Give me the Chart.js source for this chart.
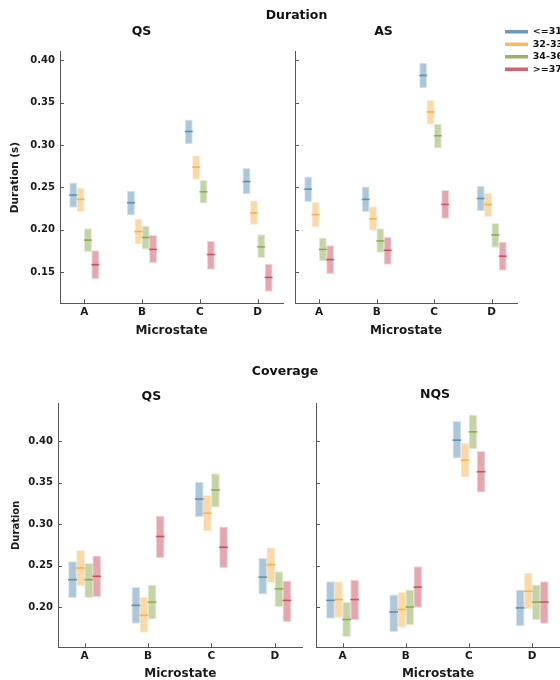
<!DOCTYPE html>
<html>
<head>
<meta charset="utf-8">
<title>Duration and Coverage by Microstate</title>
<script src="https://cdn.jsdelivr.net/npm/chart.js@4.4.1/dist/chart.umd.min.js"></script>
<style>
    body { margin: 0; background: #fff; width: 560px; height: 680px; position: relative; overflow: hidden; }
    canvas { position: absolute; }
</style>
</head>
<body>
<canvas id="durQs" width="290" height="345" style="left:0;top:0"></canvas>
<canvas id="durAs" width="310" height="345" style="left:250px;top:0"></canvas>
<canvas id="covQs" width="310" height="335" style="left:0;top:345px"></canvas>
<canvas id="covNqs" width="250" height="335" style="left:310px;top:345px"></canvas>
<canvas id="durHead" width="527" height="30" style="left:33px;top:0"></canvas>
<canvas id="covHead" width="550" height="30" style="left:10px;top:355px"></canvas>
<canvas id="legendBox" width="58" height="60" style="left:502px;top:24px"></canvas>
<script>
// Categories and groups
const categories = ['A', 'B', 'C', 'D'];
const groups = ['<=31', '32-33', '34-36', '>=37'];
const groupColors = [[70, 130, 170], [245, 170, 60], [125, 160, 60], [195, 60, 75]];

// Duration, QS (rows = age group, columns = microstate)
const durQsMean = [[0.241, 0.232, 0.316, 0.257], [0.236, 0.198, 0.274, 0.220], [0.188, 0.191, 0.245, 0.180], [0.159, 0.177, 0.171, 0.144]];
const durQsLow  = [[0.226, 0.217, 0.301, 0.242], [0.221, 0.183, 0.259, 0.206], [0.174, 0.177, 0.231, 0.167], [0.142, 0.161, 0.153, 0.127]];
const durQsHigh = [[0.256, 0.246, 0.330, 0.273], [0.250, 0.213, 0.288, 0.235], [0.202, 0.205, 0.259, 0.195], [0.176, 0.194, 0.187, 0.160]];

// Duration, AS
const durAsMean = [[0.248, 0.236, 0.382, 0.237], [0.218, 0.213, 0.339, 0.230], [0.177, 0.187, 0.311, 0.194], [0.165, 0.176, 0.230, 0.169]];
const durAsLow  = [[0.233, 0.221, 0.367, 0.222], [0.203, 0.199, 0.324, 0.215], [0.163, 0.173, 0.296, 0.179], [0.148, 0.159, 0.213, 0.152]];
const durAsHigh = [[0.263, 0.251, 0.397, 0.252], [0.233, 0.228, 0.353, 0.244], [0.191, 0.202, 0.325, 0.208], [0.182, 0.192, 0.247, 0.186]];

// Coverage, QS
const covQsMean = [[0.233, 0.202, 0.330, 0.236], [0.247, 0.190, 0.313, 0.251], [0.233, 0.206, 0.341, 0.222], [0.237, 0.285, 0.272, 0.208]];
const covQsLow  = [[0.211, 0.180, 0.308, 0.215], [0.225, 0.169, 0.291, 0.229], [0.211, 0.185, 0.320, 0.200], [0.212, 0.259, 0.247, 0.182]];
const covQsHigh = [[0.255, 0.224, 0.351, 0.259], [0.269, 0.212, 0.335, 0.272], [0.253, 0.227, 0.361, 0.243], [0.262, 0.310, 0.297, 0.232]];

// Coverage, NQS
const covNqsMean = [[0.208, 0.194, 0.401, 0.199], [0.209, 0.197, 0.377, 0.219], [0.185, 0.200, 0.411, 0.206], [0.209, 0.224, 0.363, 0.206]];
const covNqsLow  = [[0.186, 0.170, 0.379, 0.177], [0.187, 0.175, 0.356, 0.197], [0.164, 0.178, 0.390, 0.184], [0.184, 0.199, 0.338, 0.180]];
const covNqsHigh = [[0.231, 0.215, 0.424, 0.221], [0.231, 0.218, 0.398, 0.241], [0.206, 0.221, 0.432, 0.227], [0.233, 0.249, 0.388, 0.231]];

Chart.defaults.font.family = "'DejaVu Sans', sans-serif";
Chart.defaults.color = '#1a1a1a';
Chart.defaults.animation = false;

const axisColor = '#555';

function rgba(c, a) {
    return `rgba(${c[0]}, ${c[1]}, ${c[2]}, ${a})`;
}

// Draw the mean line across each floating bar
const meanLines = {
    id: 'meanLines',
    afterDatasetsDraw(chart) {
        const ctx = chart.ctx;
        const yScale = chart.scales.y;
        ctx.save();
        chart.data.datasets.forEach((ds, di) => {
            const meta = chart.getDatasetMeta(di);
            ctx.strokeStyle = ds.lineColor;
            ctx.lineWidth = 1.6;
            meta.data.forEach((bar, i) => {
                const py = yScale.getPixelForValue(ds.means[i]);
                ctx.beginPath();
                ctx.moveTo(bar.x - bar.width / 2, py);
                ctx.lineTo(bar.x + bar.width / 2, py);
                ctx.stroke();
            });
        });
        ctx.restore();
    }
};

// Tick marks pointing into the plot area
const innerTicks = {
    id: 'innerTicks',
    afterDraw(chart) {
        const {ctx, scales: {x, y}} = chart;
        ctx.save();
        ctx.strokeStyle = axisColor;
        ctx.lineWidth = 1;
        ctx.beginPath();
        x.ticks.forEach(t => {
            const px = Math.round(x.getPixelForValue(t.value)) + 0.5;
            ctx.moveTo(px, x.top);
            ctx.lineTo(px, x.top - 4);
        });
        y.ticks.forEach(t => {
            const py = Math.round(y.getPixelForValue(t.value)) + 0.5;
            ctx.moveTo(y.right, py);
            ctx.lineTo(y.right + 4, py);
        });
        ctx.stroke();
        ctx.restore();
    }
};

function makePanel(id, p) {
    const datasets = groups.map((g, gi) => ({
        label: g,
        data: categories.map((c, ci) => ({ x: ci, y: [p.low[gi][ci], p.high[gi][ci]] })),
        means: p.mean[gi],
        backgroundColor: rgba(groupColors[gi], 0.45),
        borderColor: rgba(groupColors[gi], 0.2),
        borderWidth: 1,
        borderSkipped: false,
        lineColor: rgba(groupColors[gi], 0.8),
        categoryPercentage: 0.51,
        barPercentage: 1.08
    }));

    new Chart(document.getElementById(id), {
        type: 'bar',
        data: { datasets },
        options: {
            responsive: false,
            layout: { padding: { left: 0, right: p.padRight, top: 0, bottom: 0 } },
            plugins: {
                legend: { display: false },
                tooltip: { enabled: false },
                title: {
                    display: true,
                    text: p.title,
                    color: '#111',
                    font: { size: 12.5, weight: 'bold', lineHeight: p.titleLH },
                    padding: { top: p.titleTop, bottom: p.titleBottom }
                }
            },
            scales: {
                x: {
                    type: 'linear',
                    offset: false,
                    min: -0.42,
                    max: 3.44,
                    grid: { display: false, drawTicks: false },
                    border: { color: axisColor, width: 1 },
                    ticks: {
                        stepSize: 1,
                        includeBounds: false,
                        autoSkip: false,
                        maxRotation: 0,
                        padding: 3,
                        font: { size: 10.5, weight: 'bold' },
                        callback: v => categories[v] ?? ''
                    },
                    title: {
                        display: true,
                        text: 'Microstate',
                        font: { size: 12, weight: 'bold', lineHeight: p.xTitleLH },
                        padding: { top: 0, bottom: p.xTitlePad }
                    },
                    afterFit: s => { s.height = p.xHeight; }
                },
                y: {
                    min: p.yMin,
                    max: p.yMax,
                    grid: { display: false, drawTicks: false },
                    border: { color: axisColor, width: 1 },
                    ticks: {
                        stepSize: 0.05,
                        includeBounds: false,
                        display: p.showYTicks,
                        padding: 5,
                        font: { size: 10, weight: 'bold' },
                        callback: v => v.toFixed(2)
                    },
                    title: {
                        display: !!p.yTitle,
                        text: p.yTitle || '',
                        font: { size: p.yTitleSize, weight: 'bold' },
                        padding: { top: p.yTitlePad, bottom: 0 }
                    },
                    afterFit: s => { s.width = p.yWidth; }
                }
            }
        },
        plugins: [meanLines, innerTicks]
    });
}

function makeHeader(id, text, padTop) {
    new Chart(document.getElementById(id), {
        type: 'bar',
        data: { datasets: [] },
        options: {
            responsive: false,
            plugins: {
                legend: { display: false },
                tooltip: { enabled: false },
                title: {
                    display: true,
                    text: text,
                    color: '#111',
                    font: { size: 12.5, weight: 'bold' },
                    padding: { top: padTop, bottom: 0 }
                }
            },
            scales: { x: { display: false }, y: { display: false } }
        }
    });
}

function makeLegend(id) {
    new Chart(document.getElementById(id), {
        type: 'bar',
        data: {
            datasets: groups.map((g, gi) => ({
                label: g,
                data: [],
                backgroundColor: rgba(groupColors[gi], 0.8),
                borderWidth: 0
            }))
        },
        options: {
            responsive: false,
            plugins: {
                tooltip: { enabled: false },
                legend: {
                    display: true,
                    position: 'top',
                    align: 'start',
                    maxHeight: 60,
                    labels: {
                        boxWidth: 23,
                        boxHeight: 3.5,
                        padding: 3,
                        color: '#111',
                        font: { size: 9.5, weight: 'bold' }
                    }
                }
            },
            scales: { x: { display: false }, y: { display: false } }
        }
    });
}

makePanel('durQs', {
    title: 'QS', mean: durQsMean, low: durQsLow, high: durQsHigh,
    yMin: 0.1135, yMax: 0.41, yWidth: 60, padRight: 7,
    titleTop: 24, titleBottom: 12.7, titleLH: 1.2,
    xHeight: 41.7, xTitlePad: 6.8, xTitleLH: 1.2,
    showYTicks: true, yTitle: 'Duration (s)', yTitleSize: 10.5, yTitlePad: 9
});

makePanel('durAs', {
    title: 'AS', mean: durAsMean, low: durAsLow, high: durAsHigh,
    yMin: 0.1135, yMax: 0.41, yWidth: 45, padRight: 43,
    titleTop: 24, titleBottom: 12.7, titleLH: 1.2,
    xHeight: 41.7, xTitlePad: 6.8, xTitleLH: 1.2,
    showYTicks: false, yTitle: ''
});

makePanel('covQs', {
    title: 'QS', mean: covQsMean, low: covQsLow, high: covQsHigh,
    yMin: 0.1515, yMax: 0.4454, yWidth: 58, padRight: 7.3,
    titleTop: 45.4, titleBottom: 0.4, titleLH: 1,
    xHeight: 32.7, xTitlePad: 0, xTitleLH: 1,
    showYTicks: true, yTitle: 'Duration', yTitleSize: 10, yTitlePad: 10
});

makePanel('covNqs', {
    title: 'NQS', mean: covNqsMean, low: covNqsLow, high: covNqsHigh,
    yMin: 0.1515, yMax: 0.4454, yWidth: 6, padRight: 0,
    titleTop: 43.8, titleBottom: 2, titleLH: 1,
    xHeight: 32.7, xTitlePad: 0, xTitleLH: 1,
    showYTicks: false, yTitle: ''
});

makeHeader('durHead', 'Duration', 8.5);
makeHeader('covHead', 'Coverage', 8.8);
makeLegend('legendBox');
</script>
</body>
</html>
